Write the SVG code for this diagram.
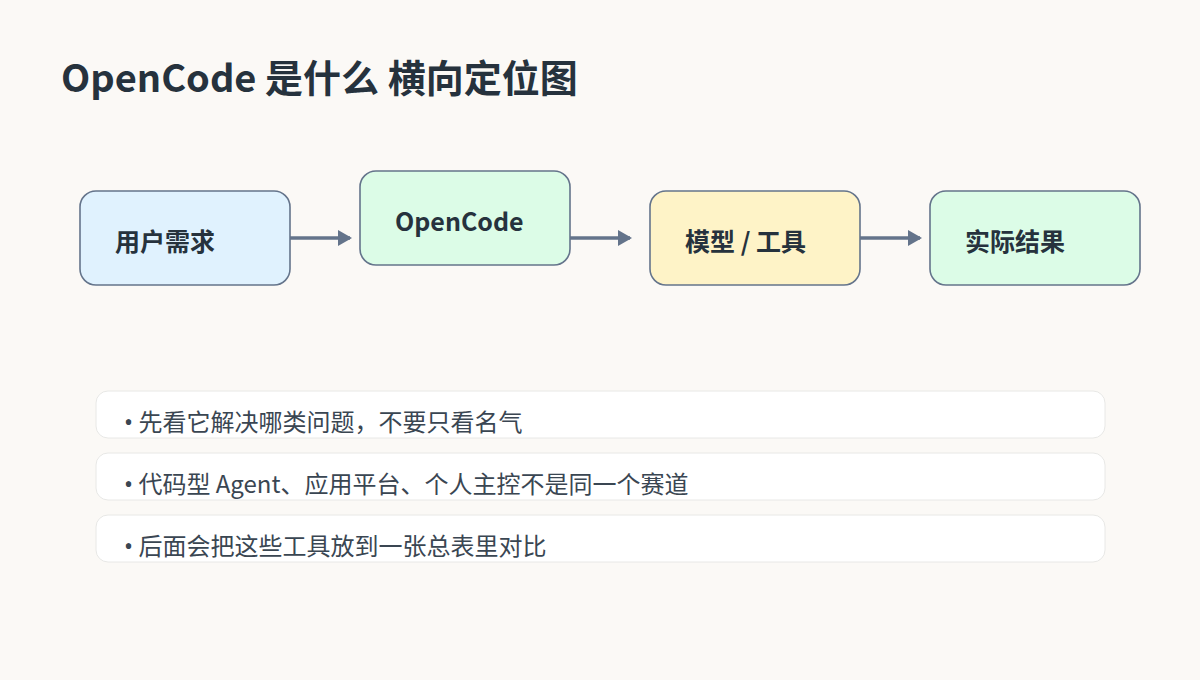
<svg xmlns="http://www.w3.org/2000/svg" width="1200" height="680" viewBox="0 0 1200 680">
<style>
text{font-family:"Noto Sans CJK SC","Noto Sans",sans-serif;fill:#26323d}
.t{font-size:38px;font-weight:700}
.n{font-size:25px;font-weight:700}
.b{font-size:24px;fill:#3a4652}
.d{font-family:"Noto Sans",sans-serif}
.nd{stroke:#64748b;stroke-width:1.6}
.bx{fill:#ffffff;stroke:#e8e8e6;stroke-width:1}
.c{stroke:#64748b;stroke-width:3.5;fill:none}
</style>
<defs><marker id="ah" markerWidth="14" markerHeight="16" refX="12" refY="8" orient="auto" markerUnits="userSpaceOnUse"><path d="M0,0 L14,8 L0,16 Z" fill="#64748b"/></marker></defs>
<rect width="1200" height="680" fill="#fbf9f6"/>
<text class="t" x="61" y="92">OpenCode 是什么 横向定位图</text>
<g id="connectors">
<line class="c" x1="290" y1="238" x2="350" y2="238" marker-end="url(#ah)"/>
<line class="c" x1="570" y1="238" x2="630" y2="238" marker-end="url(#ah)"/>
<line class="c" x1="860" y1="238" x2="920" y2="238" marker-end="url(#ah)"/>
</g>
<g id="n1"><rect class="nd" x="80" y="191" width="210" height="94" rx="16" fill="#e0f2fe"/><text class="n" x="115" y="251">用户需求</text></g>
<g id="n2"><rect class="nd" x="360" y="171" width="210" height="94" rx="16" fill="#dcfce7"/><text class="n" x="395" y="231">OpenCode</text></g>
<g id="n3"><rect class="nd" x="650" y="191" width="210" height="94" rx="16" fill="#fef3c7"/><text class="n" x="685" y="251">模型 / 工具</text></g>
<g id="n4"><rect class="nd" x="930" y="191" width="210" height="94" rx="16" fill="#dcfce7"/><text class="n" x="965" y="251">实际结果</text></g>
<g id="b1"><rect class="bx" x="96" y="391" width="1009" height="47" rx="12"/><text class="b" x="124" y="431"><tspan class="d">•</tspan> 先看它解决哪类问题，不要只看名气</text></g>
<g id="b2"><rect class="bx" x="96" y="453" width="1009" height="47" rx="12"/><text class="b" x="124" y="493"><tspan class="d">•</tspan> 代码型 Agent、应用平台、个人主控不是同一个赛道</text></g>
<g id="b3"><rect class="bx" x="96" y="515" width="1009" height="47" rx="12"/><text class="b" x="124" y="555"><tspan class="d">•</tspan> 后面会把这些工具放到一张总表里对比</text></g>
</svg>
